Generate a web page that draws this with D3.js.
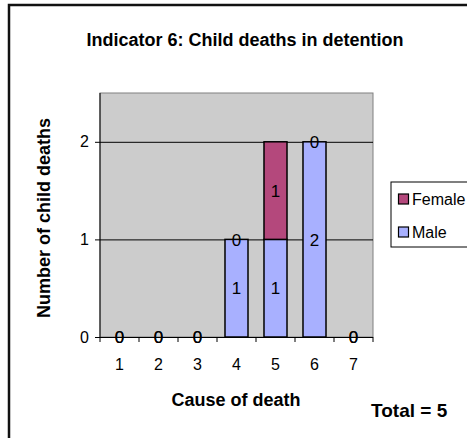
<!DOCTYPE html>
<html>
<head>
<meta charset="utf-8">
<script src="https://cdn.jsdelivr.net/npm/d3@7"></script>
<style>
  body { margin: 0; background: #fff; }
  text { font-family: "Liberation Sans", Arial, sans-serif; }
</style>
</head>
<body>
<svg id="chart"></svg>
<script>
var causes = ["1", "2", "3", "4", "5", "6", "7"];
var male = [0, 0, 0, 1, 1, 2, 0];
var female = [0, 0, 0, 0, 1, 0, 0];
var yTicks = [0, 1, 2];
var total = 5;

var width = 467, height = 438;
var plot = {left: 100, right: 373, top: 93, bottom: 337};

var svg = d3.select("#chart")
    .attr("width", width)
    .attr("height", height);

// outer chart border (runs off the right and bottom)
svg.append("rect")
    .attr("x", 9).attr("y", 5)
    .attr("width", 520).attr("height", 520)
    .attr("fill", "#fff")
    .attr("stroke", "#111")
    .attr("stroke-width", 2.5);

var x = d3.scaleBand()
    .domain(causes)
    .range([plot.left, plot.right])
    .paddingInner(0.41)
    .paddingOuter(0.205);

var xb = d3.scaleBand()
    .domain(causes)
    .range([plot.left, plot.right]);

var y = d3.scaleLinear()
    .domain([0, 2.5])
    .range([plot.bottom, plot.top]);

// plot area
svg.append("rect")
    .attr("x", plot.left).attr("y", plot.top)
    .attr("width", plot.right - plot.left)
    .attr("height", plot.bottom - plot.top)
    .attr("fill", "#cccccc")
    .attr("stroke", "#808080")
    .attr("stroke-width", 1);

// gridlines
svg.append("g").selectAll("line")
    .data(yTicks.filter(function(d) { return d > 0; }))
    .enter().append("line")
    .attr("x1", plot.left).attr("x2", plot.right)
    .attr("y1", function(d) { return y(d) + 0.5; })
    .attr("y2", function(d) { return y(d) + 0.5; })
    .attr("stroke", "#000");

// stacked series
var rows = causes.map(function(c, i) { return {cause: c, Male: male[i], Female: female[i]}; });
var stack = d3.stack().keys(["Male", "Female"])(rows);
var colors = {Male: "#a8b0ff", Female: "#b4487c"};

var layer = svg.append("g").selectAll("g")
    .data(stack)
    .enter().append("g")
    .attr("fill", function(d) { return colors[d.key]; });

layer.selectAll("rect")
    .data(function(d) { return d.filter(function(p) { return p[1] > p[0]; }); })
    .enter().append("rect")
    .attr("x", function(d) { return x(d.data.cause); })
    .attr("width", x.bandwidth())
    .attr("y", function(d) { return y(d[1]); })
    .attr("height", function(d) { return y(d[0]) - y(d[1]); })
    .attr("stroke", "#000")
    .attr("stroke-width", 1.5);

// data labels
layer.selectAll("text")
    .data(function(d) { return d; })
    .enter().append("text")
    .attr("x", function(d) { return x(d.data.cause) + x.bandwidth() / 2; })
    .attr("y", function(d) { return y((d[0] + d[1]) / 2); })
    .attr("dy", "0.36em")
    .attr("text-anchor", "middle")
    .attr("fill", "#000")
    .style("font-size", "17px")
    .text(function(d) { return d[1] - d[0]; });

// axes
var yAxis = d3.axisLeft(y).tickValues(yTicks).tickSize(5).tickPadding(6).tickFormat(d3.format("d"));
var gy = svg.append("g").attr("transform", "translate(" + plot.left + ",0)").call(yAxis);
gy.select(".domain").attr("stroke", "#000").attr("d", "M0," + plot.top + "V" + plot.bottom);
gy.selectAll(".tick line").attr("stroke", "#000");
gy.selectAll(".tick text").style("font-size", "16px").attr("fill", "#000");

var gx = svg.append("g").attr("transform", "translate(0," + plot.bottom + ")");
gx.append("line")
    .attr("x1", plot.left).attr("x2", plot.right)
    .attr("y1", 0.5).attr("y2", 0.5)
    .attr("stroke", "#000");
gx.selectAll(".xtick")
    .data(causes.concat(["end"]))
    .enter().append("line")
    .attr("x1", function(d, i) { return i < causes.length ? xb(d) : plot.right; })
    .attr("x2", function(d, i) { return i < causes.length ? xb(d) : plot.right; })
    .attr("y1", 0).attr("y2", 5)
    .attr("stroke", "#000");
gx.selectAll(".xlabel")
    .data(causes)
    .enter().append("text")
    .attr("x", function(d) { return xb(d) + xb.bandwidth() / 2; })
    .attr("y", 33)
    .attr("text-anchor", "middle")
    .style("font-size", "16px")
    .text(function(d) { return d; });

// titles
svg.append("text")
    .attr("x", 245).attr("y", 46)
    .attr("text-anchor", "middle")
    .style("font-size", "18px").style("font-weight", "bold")
    .text("Indicator 6: Child deaths in detention");

svg.append("text")
    .attr("x", 236).attr("y", 406)
    .attr("text-anchor", "middle")
    .style("font-size", "18px").style("font-weight", "bold")
    .text("Cause of death");

svg.append("text")
    .attr("transform", "translate(50,218) rotate(-90)")
    .attr("text-anchor", "middle")
    .style("font-size", "18px").style("font-weight", "bold")
    .text("Number of child deaths");

svg.append("text")
    .attr("x", 371).attr("y", 417)
    .style("font-size", "19px").style("font-weight", "bold")
    .text("Total = " + total);

// legend (box runs off the right edge, as in the original)
var legend = svg.append("g").attr("transform", "translate(391,182)");
legend.append("rect")
    .attr("width", 120).attr("height", 65)
    .attr("fill", "#fff").attr("stroke", "#000");
var items = legend.selectAll(".item")
    .data(["Female", "Male"])
    .enter().append("g")
    .attr("transform", function(d, i) { return "translate(7," + (17 + i * 33) + ")"; });
items.append("rect")
    .attr("x", 0.5).attr("y", -5)
    .attr("width", 10).attr("height", 10)
    .attr("fill", function(d) { return colors[d]; })
    .attr("stroke", "#000").attr("stroke-width", 1.2);
items.append("text")
    .attr("x", 14).attr("dy", "0.36em")
    .style("font-size", "16px")
    .text(function(d) { return d; });
</script>
</body>
</html>
